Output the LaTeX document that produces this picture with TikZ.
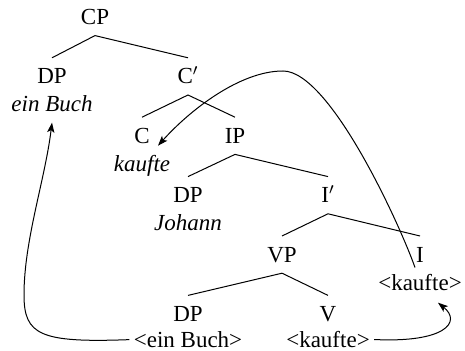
\documentclass[tikz,border=0pt]{standalone}
\usepackage{fontspec}
\setmainfont{Liberation Serif}
\usetikzlibrary{arrows.meta}

\tikzset{
  cat/.style={text height=7.6pt, text depth=0pt, inner xsep=1pt, inner ysep=5.3pt},
  word/.style={anchor=base, inner sep=2pt},
  branch/.style={line width=0.5pt},
  move/.style={->, line width=0.5pt},
}

\begin{document}
\begin{tikzpicture}[x=0.5pt, y=-0.5pt, >={Stealth[length=5pt,width=3.6pt,inset=1.2pt]}, font=\rmfamily\fontsize{11.5}{13.8}\selectfont]
\useasboundingbox (0,0) rectangle (465,351);
\node[cat] (cp) at (95,17) {CP};
\node[cat] (dpspec) at (52,76.4) {DP};
\node[word] (einbuch) at (52,111.9) {\itshape ein Buch};
\node[cat] (cbar) at (188,76.4) {C$'$};
\node[cat] (c) at (142,135.8) {C};
\node[word] (kaufteC) at (142,171.3) {\itshape kaufte};
\node[cat] (ip) at (235,135.8) {IP};
\node[cat] (dpsubj) at (188,195.2) {DP};
\node[word] (johann) at (188,230.7) {\itshape Johann};
\node[cat] (ibar) at (328,195.2) {I$'$};
\node[cat] (vp) at (282,254.6) {VP};
\node[cat] (i) at (420,254.6) {I};
\node[word] (kaufteI) at (420,290.1) {<kaufte>};
\node[cat] (dpobj) at (188,314) {DP};
\node[word] (einbuchT) at (188,347.5) {<ein Buch>};
\node[cat] (v) at (328,314) {V};
\node[word] (kaufteV) at (328,347.5) {<kaufte>};

\draw[branch] (dpspec.north) -- (cp.south) -- (cbar.north);
\draw[branch] (c.north) -- (cbar.south) -- (ip.north);
\draw[branch] (dpsubj.north) -- (ip.south) -- (ibar.north);
\draw[branch] (vp.north) -- (ibar.south) -- (i.north);
\draw[branch] (dpobj.north) -- (vp.south) -- (v.north);

\draw[move] (einbuchT.west) .. controls (40,343) and (24,335) .. (24,295)
  .. controls (24,240) and (45,180) .. ([yshift=-3pt]einbuch.south);
\draw[move] (kaufteV.east) .. controls (445,343) and (462,322) .. ([xshift=9pt,yshift=-4pt]kaufteI.south);
\draw[move] ([xshift=-2.5pt,yshift=1pt]kaufteI.north) .. controls (400,225) and (330,71) .. (283,71)
  .. controls (240,71) and (190,110) .. ([xshift=8pt,yshift=2.5pt]kaufteC.north);
\end{tikzpicture}
\end{document}
